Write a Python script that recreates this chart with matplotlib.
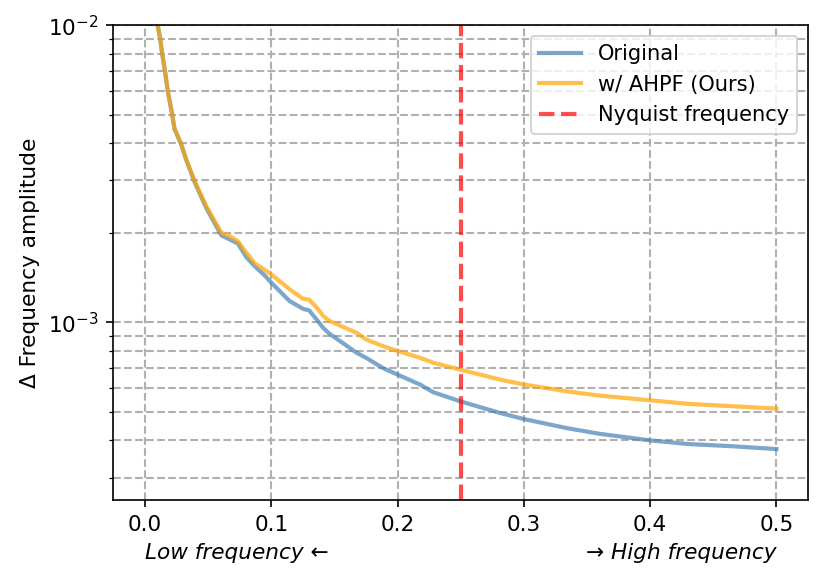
import matplotlib
matplotlib.use("Agg")
import matplotlib.pyplot as plt
import matplotlib.transforms as mtransforms

freq = [0.005, 0.010, 0.012, 0.0136, 0.0158, 0.018, 0.0215, 0.0233, 0.0285, 0.0326,
        0.039, 0.0485, 0.0604, 0.067, 0.0735, 0.080, 0.0867, 0.0947, 0.100, 0.1145,
        0.125, 0.130, 0.136, 0.141, 0.146, 0.1675, 0.175, 0.1886, 0.200, 0.2177,
        0.2283, 0.250, 0.281, 0.300, 0.334, 0.360, 0.400, 0.430, 0.4665, 0.500]
original = [2.0e-2, 1.0e-2, 9.0e-3, 8.0e-3, 7.0e-3, 6.0e-3, 5.0e-3, 4.47e-3, 3.98e-3, 3.52e-3,
            2.98e-3, 2.42e-3, 1.96e-3, 1.90e-3, 1.84e-3, 1.66e-3, 1.545e-3, 1.437e-3, 1.358e-3, 1.178e-3,
            1.11e-3, 1.095e-3, 1.02e-3, 9.57e-4, 9.15e-4, 7.89e-4, 7.59e-4, 7.0e-4, 6.66e-4, 6.17e-4,
            5.81e-4, 5.41e-4, 4.95e-4, 4.72e-4, 4.4e-4, 4.21e-4, 4.0e-4, 3.89e-4, 3.82e-4, 3.74e-4]
ahpf = [2.0e-2, 1.0e-2, 9.0e-3, 8.0e-3, 7.0e-3, 6.0e-3, 5.0e-3, 4.5e-3, 4.0e-3, 3.54e-3,
        3.0e-3, 2.46e-3, 2.0e-3, 1.95e-3, 1.875e-3, 1.72e-3, 1.58e-3, 1.5e-3, 1.449e-3, 1.29e-3,
        1.2e-3, 1.19e-3, 1.12e-3, 1.05e-3, 1.01e-3, 9.21e-4, 8.75e-4, 8.3e-4, 8.0e-4, 7.59e-4,
        7.3e-4, 6.92e-4, 6.41e-4, 6.17e-4, 5.85e-4, 5.66e-4, 5.46e-4, 5.31e-4, 5.21e-4, 5.12e-4]
nyquist = 0.25
labels = ["Original", "w/ AHPF (Ours)", "Nyquist frequency"]

plt.rcParams["font.size"] = 10.4

fig = plt.figure(figsize=(824/150, 584/150), dpi=150)
ax = fig.add_axes([0.1377, 0.1438, 0.9806 - 0.1377, 0.957 - 0.1438])

ax.plot(freq, original, color="steelblue", alpha=0.7, lw=2, label=labels[0])
ax.plot(freq, ahpf, color="orange", alpha=0.7, lw=2, label=labels[1])
ax.axvline(nyquist, color="red", alpha=0.7, lw=2, ls="--", label=labels[2])

ax.set_yscale("log")
ax.set_ylim(2.52e-4, 1e-2)
ax.set_xlim(-0.025, 0.525)
ax.grid(True, which="both", linestyle="--", lw=1)
ax.set_ylabel("Δ Frequency amplitude")
ax.legend(loc="upper right", fontsize=10.1)

trans = mtransforms.blended_transform_factory(ax.transData, ax.transAxes)
ax.text(0.0, -0.112, "Low frequency \u2190", transform=trans, ha="left", va="center", style="italic")
ax.text(0.5, -0.112, "\u2192 High frequency", transform=trans, ha="right", va="center", style="italic")

fig.savefig("out.png", dpi=150)
